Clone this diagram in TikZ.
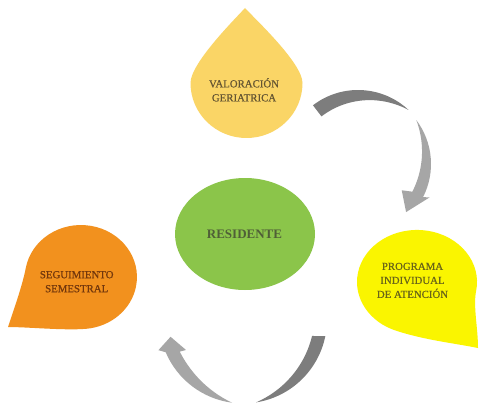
\documentclass[tikz,border=0pt]{standalone}
\usepackage{fontspec}
\setmainfont{Liberation Serif}
\newfontfamily\dropfont{Liberation Serif}[FakeBold=0.6]
\definecolor{dropgold}{RGB}{250,213,102}
\definecolor{dropyellow}{RGB}{250,245,0}
\definecolor{droporange}{RGB}{242,145,30}
\definecolor{centergreen}{RGB}{139,197,74}
\definecolor{txtgold}{RGB}{100,85,50}
\definecolor{txtyellow}{RGB}{105,100,25}
\definecolor{txtorange}{RGB}{115,55,12}
\definecolor{txtgreen}{RGB}{80,95,55}
\definecolor{arrowdarkc}{RGB}{125,125,125}
\definecolor{arrowlightc}{RGB}{166,166,166}
\begin{document}
\begin{tikzpicture}[x=1pt,y=1pt,
  droptext/.style={font=\dropfont\fontsize{10.8}{14}\selectfont, align=center, inner sep=0pt},
  centertext/.style={font=\fontsize{13}{15}\selectfont\bfseries, inner sep=0pt, text=txtgreen},
  arrowdark/.style={fill=arrowdarkc},
  arrowlight/.style={fill=arrowlightc}]
\useasboundingbox (0,0) rectangle (500,413);
\fill[white] (0,0) rectangle (500,413);

% top drop
\fill[dropgold] (245,405) .. controls (236,395) and (190.5,350) .. (190.5,330)
  arc[start angle=180, end angle=360, x radius=56, y radius=55]
  .. controls (302.5,350) and (254,395) .. cycle;
% right drop
\fill[dropyellow] (478,65) .. controls (478,85) and (473,107) .. (476.1,122)
  arc[start angle=-10, end angle=250, x radius=60, y radius=52]
  .. controls (424.7,73) and (453,70) .. cycle;
% left drop
\fill[droporange] (8,86) .. controls (13,101) and (22.4,127.4) .. (25.8,145)
  arc[start angle=170, end angle=-85, x radius=56, y radius=52]
  .. controls (63.6,82.4) and (28,86) .. cycle;
% center ellipse
\fill[centergreen] (245,179) ellipse[x radius=70, y radius=56];

% top-right arrow
\begin{scope}[shift={(358,249)}]
\path[arrowdark] (127.5:74) arc[start angle=127.5, end angle=47, radius=74]
  -- plot[domain=47:127.5, samples=40, variable=\t]
   ({(74-14*(1-((127.5-\t)/80.5)*((127.5-\t)/80.5)))*cos(\t)},
    {(74-14*(1-((127.5-\t)/80.5)*((127.5-\t)/80.5)))*sin(\t)}) -- cycle;
\path[arrowlight] (37:73) arc[start angle=37, end angle=-27, radius=73]
  -- (-25:79) -- (-45:68) -- (-31:51)
  -- plot[domain=-27:37, samples=40, variable=\t]
   ({(73-12*(1-((\t+27)/64)*((\t+27)/64)))*cos(\t)},
    {(73-12*(1-((\t+27)/64)*((\t+27)/64)))*sin(\t)}) -- cycle;
\end{scope}

% bottom arrow
\begin{scope}[shift={(243,93.6)}]
\path[arrowdark] (-11.5:84) arc[start angle=-11.5, end angle=-81, radius=84]
  -- plot[domain=-81:-13.5, samples=40, variable=\t]
   ({(84-13*(1-((\t+13.5)/67.5)*((\t+13.5)/67.5)))*cos(\t)},
    {(84-13*(1-((\t+13.5)/67.5)*((\t+13.5)/67.5)))*sin(\t)}) -- cycle;
\path[arrowlight] (-97.5:84) arc[start angle=-97.5, end angle=-157, radius=84]
  -- (-160:90) -- (-166.5:74.5) -- (-151.8:64.7)
  -- plot[domain=-153:-97.5, samples=40, variable=\t]
   ({(84-13*(1-((\t+153)/55.5)*((\t+153)/55.5)))*cos(\t)},
    {(84-13*(1-((\t+153)/55.5)*((\t+153)/55.5)))*sin(\t)}) -- cycle;
\end{scope}

% texts
\node[droptext, text=txtgold] (valoracion) at (244,323.2) {VALORACIÓN\\GERIATRICA};
\node[droptext, text=txtyellow] (programa) at (412.5,132.6) {PROGRAMA\\INDIVIDUAL\\DE ATENCIÓN};
\node[droptext, text=txtorange] (seguimiento) at (76.7,131.3) {SEGUIMIENTO\\SEMESTRAL};
\node[centertext] (residente) at (244.5,179.2) {RESIDENTE};
\end{tikzpicture}
\end{document}
